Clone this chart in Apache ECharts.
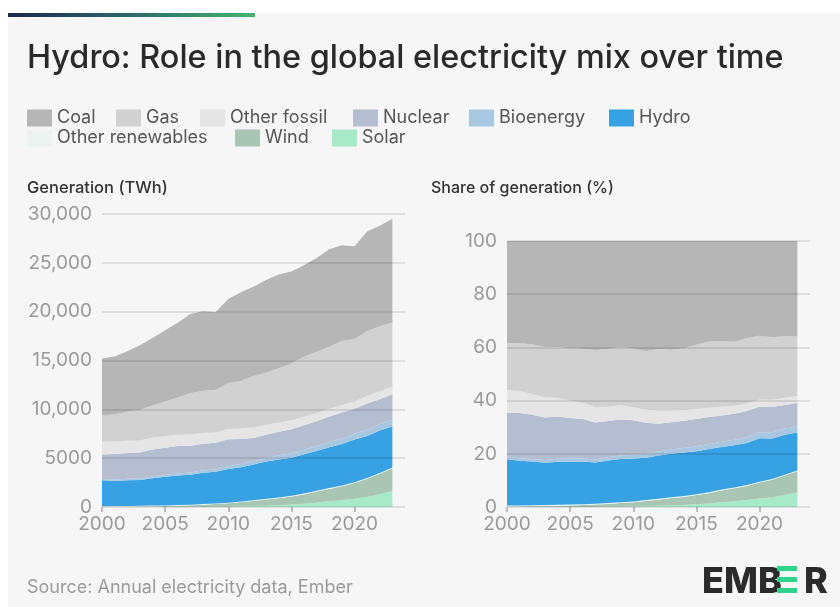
<!DOCTYPE html>
<html>
<head>
<meta charset="utf-8">
<script src="https://cdn.jsdelivr.net/npm/echarts@6/dist/echarts.min.js"></script>
<style>
html,body{margin:0;padding:0;background:#ffffff;}
#chart{width:840px;height:607px;}
</style>
</head>
<body>
<div id="chart"></div>
<script>
// ---- Data (TWh) ----
const years = ['2000','2001','2002','2003','2004','2005','2006','2007','2008','2009','2010','2011','2012','2013','2014','2015','2016','2017','2018','2019','2020','2021','2022','2023'];
const coal = [5850,5900,6200,6600,6900,7300,7650,8100,8150,7950,8600,9100,9150,9500,9600,9400,9350,9600,10000,9800,9500,10200,10300,10600];
const gas = [2670,2780,2970,3140,3290,3560,3810,4230,4320,4370,4710,4850,5250,5340,5540,5830,6160,6280,6340,6560,6410,6640,6660,6580];
const otherFossil = [1300,1280,1250,1240,1220,1180,1160,1150,1100,1060,1050,1080,1090,1000,940,900,860,840,800,760,720,770,800,780];
const nuclear = [2510,2620,2650,2640,2760,2770,2800,2740,2730,2700,2760,2580,2350,2380,2440,2470,2510,2530,2590,2660,2560,2680,2550,2600];
const bioenergy = [140,145,155,170,185,200,215,230,245,265,300,320,350,380,410,450,480,510,540,570,600,650,670,690];
const hydro = [2650,2580,2620,2640,2800,2920,3020,3060,3210,3240,3440,3500,3670,3800,3890,3890,4020,4070,4190,4240,4370,4290,4330,4210];
const otherRenewables = [52,53,54,55,56,58,60,62,64,67,68,69,70,72,74,77,82,86,88,90,91,92,92,92];
const wind = [31,38,52,63,85,104,133,170,221,276,342,437,522,640,712,830,960,1140,1270,1420,1600,1850,2100,2320];
const solar = [1,1,2,3,4,4,6,8,12,21,32,64,100,137,190,256,330,445,580,700,850,1030,1300,1630];

// axis categories run one year past the data so the grid extends like the reference
const axisYears = years.concat(['2024']);

// stacking order bottom -> top
const seriesDefs = [
  {name:'Solar', data:solar, color:'#a6eac9'},
  {name:'Wind', data:wind, color:'#a9c6b5'},
  {name:'Other renewables', data:otherRenewables, color:'#edf3f0'},
  {name:'Hydro', data:hydro, color:'#36a2e3'},
  {name:'Bioenergy', data:bioenergy, color:'#a8c8e2'},
  {name:'Nuclear', data:nuclear, color:'#b5bed0'},
  {name:'Other fossil', data:otherFossil, color:'#e5e5e5'},
  {name:'Gas', data:gas, color:'#d1d1d1'},
  {name:'Coal', data:coal, color:'#b6b6b6'}
];

const totals = years.map((y,i)=>seriesDefs.reduce((s,d)=>s+d.data[i],0));

const legendLayout = [
  ['Coal',27,109],['Gas',116,109],['Other fossil',200,109],['Nuclear',353,109],['Bioenergy',469,109],['Hydro',609,109],
  ['Other renewables',27,129],['Wind',235,129],['Solar',332,129]
];
const colorOf = {}; seriesDefs.forEach(d=>colorOf[d.name]=d.color);

const FONT = 'Inter';
const axisLabelStyle = {color:'#9a9a9a', fontSize:19, fontFamily:FONT};
const gridLine = {show:true, lineStyle:{color:'rgba(0,0,0,0.13)', width:1.5}};

const series = [];
seriesDefs.forEach(d=>{
  series.push({
    name:d.name, type:'line', stack:'twh', xAxisIndex:0, yAxisIndex:0,
    symbol:'none', lineStyle:{width:0}, areaStyle:{color:d.color, opacity:1}, color:d.color,
    data: d.data.slice()
  });
  series.push({
    name:d.name, type:'line', stack:'pct', xAxisIndex:1, yAxisIndex:1,
    symbol:'none', lineStyle:{width:0}, areaStyle:{color:d.color, opacity:1}, color:d.color,
    data: d.data.map((v,i)=>v/totals[i]*100)
  });
});

const xAxisBase = {
  type:'category', data:axisYears, boundaryGap:false,
  axisLine:{show:false},
  axisTick:{show:true, length:5, interval:4, lineStyle:{color:'#aaaaaa', width:1.5}},
  splitLine:{show:false},
  axisLabel:Object.assign({margin:8, interval:4}, axisLabelStyle)
};

const option = {
  backgroundColor:'#ffffff',
  animation:false,
  textStyle:{fontFamily:FONT},
  title:[
    {text:'Hydro: Role in the global electricity mix over time', left:27, top:42, padding:0,
     textStyle:{fontSize:32.4, fontWeight:500, color:'#2a2a2a', fontFamily:FONT}},
    {text:'Generation (TWh)', left:27, top:180, padding:0, textStyle:{fontSize:16.5, fontWeight:500, color:'#333333', fontFamily:FONT}},
    {text:'Share of generation (%)', left:431, top:180, padding:0, textStyle:{fontSize:16, fontWeight:500, color:'#333333', fontFamily:FONT}},
    {text:'Source: Annual electricity data, Ember', left:27, top:579, padding:0, textStyle:{fontSize:18, fontWeight:400, color:'#9a9a9a', fontFamily:FONT}}
  ],
  legend: legendLayout.map(([n,l,t])=>({
    data:[{name:n, itemStyle:{color:colorOf[n]}}], left:l, top:t, icon:'rect', itemWidth:25, itemHeight:17, itemGap:0,
    textStyle:{fontSize:18, color:'#555555', fontFamily:FONT}, padding:0
  })),
  grid:[
    {left:102, top:214, width:303, height:293},
    {left:507, top:241, width:303, height:266}
  ],
  xAxis:[Object.assign({gridIndex:0}, xAxisBase), Object.assign({gridIndex:1}, xAxisBase)],
  yAxis:[
    {type:'value', gridIndex:0, min:0, max:30000, interval:5000, z:5,
     axisLine:{show:false}, axisTick:{show:false}, splitLine:gridLine,
     axisLabel:Object.assign({margin:10, formatter:v=> v>=10000 ? v.toLocaleString('en-US') : String(v)}, axisLabelStyle)},
    {type:'value', gridIndex:1, min:0, max:100, interval:20, z:5,
     axisLine:{show:false}, axisTick:{show:false}, splitLine:gridLine,
     axisLabel:Object.assign({margin:10}, axisLabelStyle)}
  ],
  graphic:[
    {type:'rect', left:8, top:13, shape:{width:832, height:594}, style:{fill:'#f6f6f6'}, z:-10, silent:true},
    {type:'rect', left:8, top:13, shape:{width:247, height:4},
     style:{fill:new echarts.graphic.LinearGradient(0,0,1,0,[{offset:0,color:'#1d2850'},{offset:0.5,color:'#2c6a6a'},{offset:1,color:'#45b56e'}])}, silent:true},
    {type:'text', left:702, top:564, style:{text:'EMB', font:'800 36px Inter', fill:'#2b2b2b'}},
    {type:'rect', left:777, top:566, shape:{width:20, height:5}, style:{fill:'#2fd38a'}},
    {type:'rect', left:777, top:577, shape:{width:20, height:5}, style:{fill:'#2fd38a'}},
    {type:'rect', left:777, top:588, shape:{width:20, height:5}, style:{fill:'#2fd38a'}},
    {type:'text', left:804, top:564, style:{text:'R', font:'800 36px Inter', fill:'#2b2b2b'}}
  ],
  series:series
};

const chart = echarts.init(document.getElementById('chart'), null, {renderer:'canvas'});
chart.setOption(option);
</script>
</body>
</html>
